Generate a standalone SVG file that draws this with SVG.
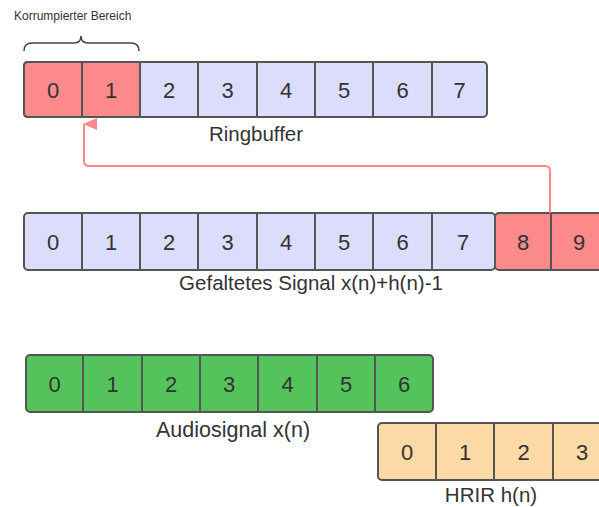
<svg xmlns="http://www.w3.org/2000/svg" width="599" height="507" viewBox="0 0 599 507">
<style>
.c{stroke:#555;stroke-width:2}
.b{fill:#dcdcfd}.r{fill:#fd8a8a}.g{fill:#55c35b}.o{fill:#fedba6}
.d{font-family:"Liberation Sans",Arial,sans-serif;font-size:22px;fill:#333;text-anchor:middle}
.l{font-family:"Liberation Sans",Arial,sans-serif;font-size:20.5px;fill:#333;text-anchor:middle}
.s{font-family:"Liberation Sans",Arial,sans-serif;font-size:12px;fill:#333}
</style>
<defs>
<marker id="ah" markerWidth="12" markerHeight="14" refX="6" refY="1" orient="auto-start-reverse" markerUnits="userSpaceOnUse" viewBox="0 0 12 14">
<path d="M0,14 L6,0 L12,14 Z" fill="#f88"/>
</marker>
</defs>
<rect width="599" height="507" fill="#fff"/>

<g id="corrupt-label">
<text class="s" x="14" y="20">Korrumpierter Bereich</text>
<path d="M24,51 Q24,43 32,43 L74,43 Q81,43 81,36 Q81,43 88,43 L131,43 Q139,43 139,51" fill="none" stroke="#444" stroke-width="1.6"/>
</g>

<g id="ringbuffer">
<rect class="c b" x="24" y="62" width="463" height="55" rx="4"/>
<path class="c r" d="M28,62 H140 V117 H28 Q24,117 24,113 V66 Q24,62 28,62 Z"/>
<path class="c" d="M82,62V117M140,62V117M198,62V117M257,62V117M315,62V117M373,62V117M432,62V117" fill="none"/>
<text class="d" y="97.5"><tspan x="53">0</tspan><tspan x="111">1</tspan><tspan x="169">2</tspan><tspan x="227.5">3</tspan><tspan x="286">4</tspan><tspan x="344">5</tspan><tspan x="402.5">6</tspan><tspan x="459.5">7</tspan></text>
<text class="l" x="256" y="141">Ringbuffer</text>
</g>

<g id="gefaltetes-signal">
<rect class="c b" x="24" y="213" width="471" height="57" rx="4"/>
<path class="c" d="M82,213V270M140,213V270M198,213V270M257,213V270M315,213V270M373,213V270M432,213V270" fill="none"/>
<rect class="c r" x="495" y="213" width="120" height="57" rx="4"/>
<path class="c" d="M551,213V270" fill="none"/>
<text class="d" y="249.5"><tspan x="53">0</tspan><tspan x="111">1</tspan><tspan x="169">2</tspan><tspan x="227.5">3</tspan><tspan x="286">4</tspan><tspan x="344">5</tspan><tspan x="402.5">6</tspan><tspan x="463">7</tspan><tspan x="523">8</tspan><tspan x="579">9</tspan></text>
<text class="l" x="311" y="290">Gefaltetes Signal x(n)+h(n)-1</text>
</g>

<g id="audiosignal">
<rect class="c g" x="26" y="355" width="407" height="57" rx="4"/>
<path class="c" d="M83,355V412M142,355V412M200,355V412M258,355V412M317,355V412M375,355V412" fill="none"/>
<text class="d" y="391.5"><tspan x="54.5">0</tspan><tspan x="112.5">1</tspan><tspan x="171">2</tspan><tspan x="229">3</tspan><tspan x="287.5">4</tspan><tspan x="346">5</tspan><tspan x="404">6</tspan></text>
<text class="l" x="233" y="437" style="font-size:21.5px">Audiosignal x(n)</text>
</g>

<g id="hrir">
<rect class="c o" x="378" y="423" width="240" height="57" rx="4"/>
<path class="c" d="M436,423V480M494,423V480M553,423V480" fill="none"/>
<text class="d" y="459.5"><tspan x="407">0</tspan><tspan x="465">1</tspan><tspan x="523.5">2</tspan><tspan x="582">3</tspan></text>
<text class="l" x="491" y="502">HRIR h(n)</text>
</g>

<g id="connectors">
<path d="M550,213 V171 Q550,166 545,166 H89 Q84,166 84,161 V124" fill="none" stroke="#f88" stroke-width="2" marker-end="url(#ah)"/>
</g>
</svg>
